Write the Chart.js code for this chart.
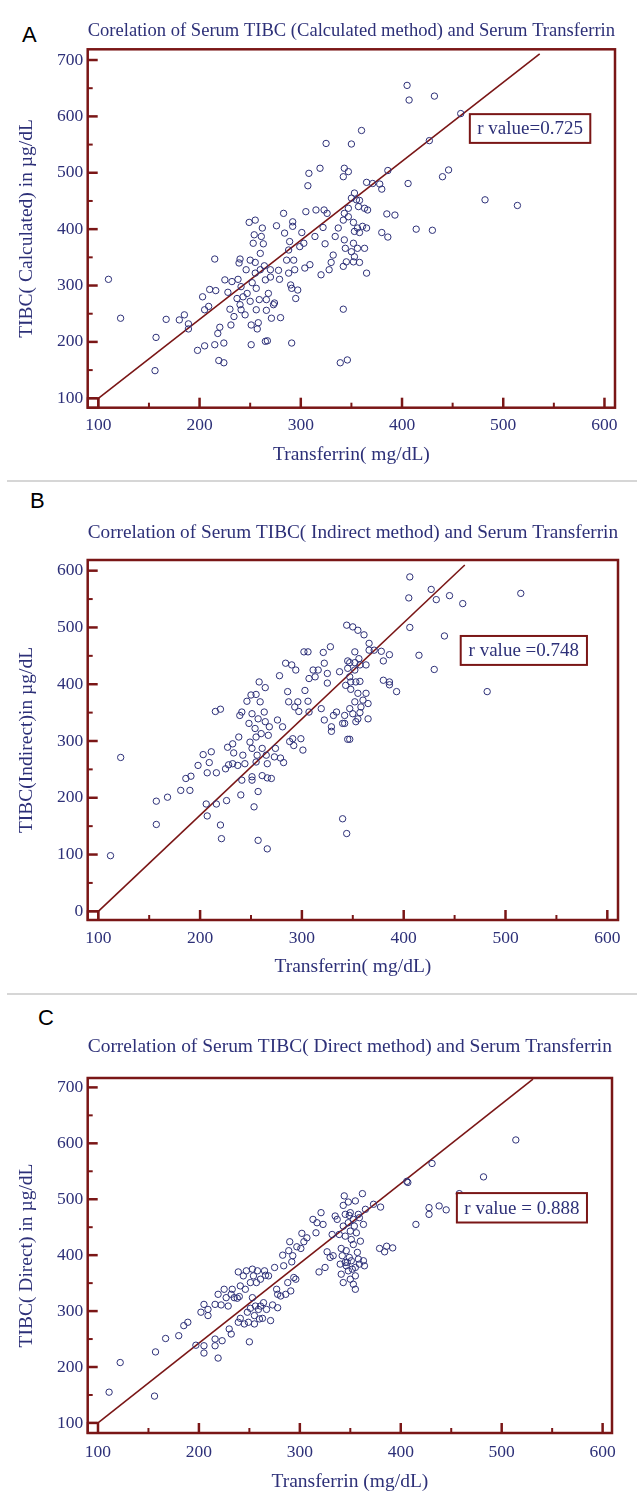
<!DOCTYPE html>
<html><head><meta charset="utf-8">
<script src="https://cdn.jsdelivr.net/npm/chart.js@4.4.1/dist/chart.umd.min.js"></script>
<style>
html,body{margin:0;padding:0;background:#fff;}
body{width:637px;height:1507px;position:relative;overflow:hidden;}
canvas{position:absolute;left:0;}
.letter{position:absolute;font-family:"Liberation Sans",Arial,sans-serif;font-size:22px;line-height:24px;color:#000;}
.sep{position:absolute;left:7px;width:630px;height:2px;background:#d6d6d6;}
</style></head><body>
<div class="letter" style="left:22px;top:23px">A</div>
<div class="sep" style="top:480px"></div>
<div class="letter" style="left:30px;top:489px">B</div>
<div class="sep" style="top:993px"></div>
<div class="letter" style="left:38px;top:1006px">C</div>
<canvas id="cA" width="637" height="481" style="top:0px"></canvas>
<canvas id="cB" width="637" height="513" style="top:481px"></canvas>
<canvas id="cC" width="637" height="513" style="top:994px"></canvas>
<script>
// ---------- DATA ----------
const xTickValues = [100, 200, 300, 400, 500, 600];
const xMinorTicks = [150, 250, 350, 450, 550];
const yTicksA = [100, 200, 300, 400, 500, 600, 700];
const yMinorA = [150, 250, 350, 450, 550, 650];
const yTicksB = [0, 100, 200, 300, 400, 500, 600];
const yMinorB = [50, 150, 250, 350, 450, 550];
const yTicksC = [100, 200, 300, 400, 500, 600, 700];
const yMinorC = [150, 250, 350, 450, 550, 650];

const titles = [
  "Corelation of Serum TIBC (Calculated method) and Serum Transferrin",
  "Correlation of Serum TIBC( Indirect method) and Serum Transferrin",
  "Correlation of Serum TIBC( Direct method) and Serum Transferrin"
];
const yTitles = ["TIBC( Calculated) in \u00b5g/dL", "TIBC(Indirect)in \u00b5g/dL", "TIBC( Direct) in \u00b5g/dL"];
const xTitles = ["Transferrin( mg/dL)", "Transferrin( mg/dL)", "Transferrin (mg/dL)"];
const rLabels = ["r value=0.725", "r value =0.748", "r value = 0.888"];

// Panel A: transferrin vs TIBC (calculated)
const transferrinA = [110,122,167,157,156,180,185,189,189,198,203,205,209,205,210,216,215,215,220,218,219,224,224,225,228,230,231,232,234,237,238,239,240,241,240,241,243,245,246,247,249,250,250,251,251,252,253,254,255,255,255,256,256,257,258,259,260,260,261,262,263,264,265,266,266,265,267,268,270,270,273,274,271,276,278,279,280,283,284,286,288,288,289,290,291,291,292,292,293,294,295,297,299,301,303,304,305,307,308,309,314,315,319,320,322,323,324,325,326,328,330,332,334,337,339,342,342,343,343,343,344,345,346,347,347,350,360,350,353,355,358,357,363,366,365,371,378,380,386,342,347,352,356,353,361,358,365,352,356,363,350,353,358,352,342,365,385,393,380,386,406,414,430,427,405,407,432,458,440,446,482,514];
const tibcCalculated = [311,242,240,208,149,239,248,232,223,185,280,193,263,257,293,291,347,195,226,215,167,163,198,310,288,258,230,307,245,277,311,340,347,257,266,298,280,248,328,286,412,345,272,230,195,305,375,390,416,341,322,295,257,223,234,275,328,357,387,402,374,335,310,275,256,201,202,286,328,315,266,269,242,406,327,311,243,428,393,345,322,363,378,301,295,198,413,405,345,328,277,292,369,394,375,331,431,477,499,337,387,434,508,319,403,434,374,552,428,328,341,354,387,402,163,258,493,508,428,381,366,342,168,437,502,551,575,455,464,452,451,440,437,434,483,481,480,471,504,416,422,412,402,396,405,394,402,375,366,366,360,351,341,342,334,322,427,425,394,386,481,400,398,557,655,629,636,605,493,505,452,442];

// Panel B: transferrin vs TIBC (indirect)
const transferrinB = [112,122,157,157,168,181,186,190,191,198,203,209,211,207,206,207,216,216,215,220,220,221,226,225,227,228,232,233,232,237,238,239,241,240,241,242,244,246,248,249,250,251,251,251,251,253,254,255,255,255,256,257,257,257,258,259,260,261,261,263,264,264,265,266,267,268,266,266,270,273,274,276,278,279,281,282,284,286,287,288,290,291,292,293,294,296,297,299,301,302,303,306,306,307,307,311,313,316,319,321,322,322,325,325,328,329,329,331,334,337,340,342,344,344,347,347,348,350,352,353,355,406,405,427,432,445,458,515,406,440,415,430,482,361,366,366,371,378,386,380,345,352,357,363,356,345,352,347,353,357,343,348,355,363,360,365,352,358,347,342,350,357,365,355,340,345,380,386,386,393];
const tibcIndirect = [98,271,153,194,201,213,234,213,238,257,276,262,281,244,189,168,189,244,352,356,152,128,195,251,289,258,295,279,260,257,307,345,351,205,231,275,260,370,331,298,381,348,287,237,231,184,322,382,307,263,275,211,125,339,404,369,313,239,287,351,334,394,275,110,310,325,260,235,234,272,287,337,415,270,325,262,437,387,369,299,434,304,292,360,425,369,352,304,284,457,389,457,370,410,351,425,413,425,357,456,437,337,402,419,466,325,317,345,351,422,163,331,137,504,303,438,404,501,457,334,495,589,552,567,549,556,542,560,500,485,451,426,387,487,472,460,460,458,452,441,441,438,434,434,445,428,425,413,404,405,398,391,384,384,372,366,369,360,357,345,348,350,339,339,331,303,407,404,399,387];

// Panel C: transferrin vs TIBC (direct)
const transferrinC = [111,122,156,157,167,180,185,189,197,205,205,202,209,205,209,216,216,216,219,219,222,223,225,227,229,232,232,230,233,235,238,239,239,240,241,241,244,245,246,247,248,249,250,251,251,253,253,254,255,255,256,257,258,259,260,261,261,263,264,265,266,267,269,271,273,275,277,278,278,281,283,284,286,288,289,290,291,292,293,294,296,297,301,302,304,307,313,316,317,319,321,323,325,327,330,332,333,335,337,339,340,341,342,343,344,345,346,347,348,349,350,352,353,355,357,358,360,362,514,431,406,407,482,458,428,428,438,445,415,379,386,392,384,373,380,365,359,349,353,348,354,343,350,356,363,345,351,345,351,358,363,364,355,348,341,355,350,343,353,355,359,346];
const tibcDirect = [155,208,148,227,251,256,274,280,239,238,225,298,292,312,303,312,238,250,216,330,311,247,339,324,309,330,259,268,339,324,323,370,280,326,287,345,363,277,339,372,298,280,245,351,305,324,375,363,277,292,309,351,372,303,286,357,309,287,315,372,364,303,363,283,311,378,339,306,330,327,400,381,330,351,408,424,336,388,399,360,357,415,412,439,424,431,464,440,458,370,476,455,378,406,396,437,399,470,464,437,384,412,399,489,506,473,408,387,495,396,476,375,419,497,405,473,425,510,606,564,532,530,540,510,485,473,488,481,455,412,416,413,406,491,486,482,467,471,464,458,452,452,443,440,455,434,428,387,390,393,390,381,378,372,366,363,357,351,348,339,384,381];

// regression lines (end points)
const fitLineAx = [100, 536], fitLineAy = [100, 711];
const fitLineBx = [100, 460], fitLineBy = [0, 610];
const fitLineCx = [100, 531], fitLineCy = [100, 715];

// ---------- STYLE ----------
const NAVY = '#2d3078';
const MAROON = '#7a1616';
const SERIF = "'Liberation Serif','Times New Roman',serif";
Chart.defaults.font.family = SERIF;

const framePlugin = {
  id: 'frame',
  afterDatasetsDraw(chart, args, o) {
    const {ctx, chartArea: a, scales: {x, y}} = chart;
    ctx.save();
    ctx.strokeStyle = MAROON;
    ctx.lineCap = 'butt';
    const vt = (v, len, w) => { const px = x.getPixelForValue(v); ctx.lineWidth = w; ctx.beginPath(); ctx.moveTo(px, a.bottom); ctx.lineTo(px, a.bottom - len); ctx.stroke(); };
    const ht = (v, len, w) => { const py = y.getPixelForValue(v); ctx.lineWidth = w; ctx.beginPath(); ctx.moveTo(a.left, py); ctx.lineTo(a.left + len, py); ctx.stroke(); };
    xTickValues.forEach(v => vt(v, 10, 2.5));
    xMinorTicks.forEach(v => vt(v, 5, 2));
    o.yMajor.forEach(v => ht(v, 10, 2.5));
    o.yMinor.forEach(v => ht(v, 5, 2));
    ctx.lineWidth = 2.5;
    ctx.strokeRect(a.left, a.top, a.right - a.left, a.bottom - a.top);
    const cx = x.getPixelForValue(o.corner[0]), cy = y.getPixelForValue(o.corner[1]);
    ctx.lineWidth = 2;
    ctx.strokeRect(a.left, cy, cx - a.left, a.bottom - cy);
    const x1 = x.getPixelForValue(o.rBox[0]), x2 = x.getPixelForValue(o.rBox[1]);
    const y1 = y.getPixelForValue(o.rBox[2]), y2 = y.getPixelForValue(o.rBox[3]);
    ctx.fillStyle = '#fff';
    ctx.fillRect(x1, y1, x2 - x1, y2 - y1);
    ctx.lineWidth = 2;
    ctx.strokeRect(x1, y1, x2 - x1, y2 - y1);
    ctx.fillStyle = NAVY;
    ctx.font = "19px " + SERIF;
    ctx.textAlign = 'center';
    ctx.textBaseline = 'middle';
    ctx.fillText(o.rText, (x1 + x2) / 2, (y1 + y2) / 2 + 1);
    ctx.restore();
  }
};

function buildChart(id, c) {
  const pts = c.xs.map((v, i) => ({x: v, y: c.ys[i]}));
  const line = c.lx.map((v, i) => ({x: v, y: c.ly[i]}));
  return new Chart(document.getElementById(id), {
    type: 'scatter',
    data: {datasets: [
      {data: pts, pointRadius: 3.2, pointHoverRadius: 3.2, pointBorderWidth: 1, pointBorderColor: NAVY, pointBackgroundColor: 'rgba(255,255,255,0)'},
      {data: line, showLine: true, borderColor: MAROON, borderWidth: 1.6, pointRadius: 0, fill: false}
    ]},
    options: {
      responsive: false, animation: false, events: [],
      layout: {padding: {left: 0, right: 637 - c.boxRight, top: 0, bottom: c.padBottom}},
      plugins: {
        legend: {display: false}, tooltip: {enabled: false},
        title: {display: true, text: c.title, fullSize: false, color: NAVY,
          font: {family: SERIF, size: 19.7, weight: 'normal', lineHeight: 1.2},
          padding: {top: c.tTop, bottom: c.tBottom}},
        frame: {yMajor: c.yTicks, yMinor: c.yMinor, corner: c.corner, rBox: c.rBox, rText: c.rText}
      },
      scales: {
        x: {type: 'linear', min: c.xMin, max: c.xMax,
          afterFit: s => { s.height = c.xAxisH; },
          afterBuildTicks: s => { s.ticks = xTickValues.map(v => ({value: v})); },
          grid: {display: false, drawTicks: false}, border: {display: false},
          ticks: {color: NAVY, font: {family: SERIF, size: 17.5, lineHeight: 1.2}, padding: c.xTickPad, maxRotation: 0, autoSkip: false},
          title: {display: true, text: c.xTitle, color: NAVY, font: {family: SERIF, size: 19.5, lineHeight: 1.2}, padding: 0}
        },
        y: {type: 'linear', min: c.yMin, max: c.yMax,
          afterFit: s => { s.width = 87.7; },
          afterBuildTicks: s => { s.ticks = c.yTicks.map(v => ({value: v})); },
          grid: {display: false, drawTicks: false}, border: {display: false},
          ticks: {color: NAVY, font: {family: SERIF, size: 17.5, lineHeight: 1.2}, padding: 4.4, autoSkip: false},
          title: {display: true, text: c.yTitle, color: NAVY, font: {family: SERIF, size: 19.5, lineHeight: 1.2}, padding: {top: 15.3, bottom: 0}}
        }
      }
    },
    plugins: [framePlugin]
  });
}

buildChart('cA', {xs: transferrinA, ys: tibcCalculated, lx: fitLineAx, ly: fitLineAy,
  title: titles[0], xTitle: xTitles[0], yTitle: yTitles[0], rText: rLabels[0],
  xMin: 89.5, xMax: 610.4, yMin: 83.3, yMax: 719, yTicks: yTicksA, yMinor: yMinorA,
  corner: [100, 100], rBox: [467, 586, 604, 553],
  boxRight: 615, tTop: 19.18, tBottom: 6.48, xTickPad: 7.3, xAxisH: 59, padBottom: 14.3});

buildChart('cB', {xs: transferrinB, ys: tibcIndirect, lx: fitLineBx, ly: fitLineBy,
  title: titles[1], xTitle: xTitles[1], yTitle: yTitles[1], rText: rLabels[1],
  xMin: 89.6, xMax: 610.5, yMin: -15.3, yMax: 618.8, yTicks: yTicksB, yMinor: yMinorB,
  corner: [100, 0], rBox: [456, 580, 485, 434],
  boxRight: 618, tTop: 40.18, tBottom: 15.18, xTickPad: 7.5, xAxisH: 58.7, padBottom: 15.3});

buildChart('cC', {xs: transferrinC, ys: tibcDirect, lx: fitLineCx, ly: fitLineCy,
  title: titles[2], xTitle: xTitles[2], yTitle: yTitles[2], rText: rLabels[2],
  xMin: 89.8, xMax: 609.3, yMin: 82, yMax: 716.8, yTicks: yTicksC, yMinor: yMinorC,
  corner: [100, 100], rBox: [455.6, 584.5, 511, 458.4],
  boxRight: 612, tTop: 41.18, tBottom: 19.18, xTickPad: 8.5, xAxisH: 60.7, padBottom: 13.3});
</script>
</body></html>
